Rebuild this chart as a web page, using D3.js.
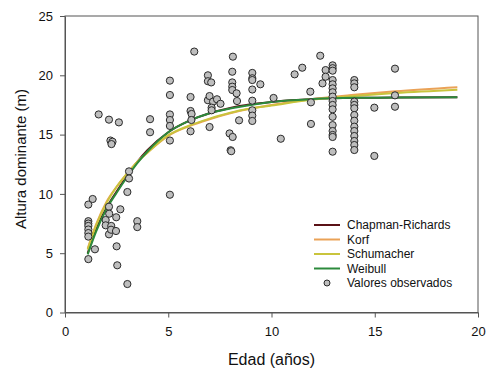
<!DOCTYPE html>
<html>
<head>
<meta charset="utf-8">
<script src="https://cdn.jsdelivr.net/npm/d3@7"></script>
<style>
  body { margin: 0; background: #fff; }
  svg { display: block; font-family: "Liberation Sans", Arial, sans-serif; }
</style>
</head>
<body>
<div id="chart"></div>
<script>
// observed values (age, height)
var obsAge = [
  1.13, 1.13, 1.13, 1.13, 1.13, 1.13, 1.13, 1.13, 1.34, 1.45, 1.63,
  1.97, 1.97, 2.13, 2.13, 2.13, 2.14, 2.2, 2.3, 2.25, 2.24, 2.23,
  2.47, 2.48, 2.5, 2.53, 2.61, 2.68, 3.02, 3.02, 3.1, 3.1, 3.5, 3.5,
  4.12, 4.12,
  5.08, 5.08, 5.08, 5.08, 5.08, 5.08, 5.08,
  6.08, 6.08, 6.08, 6.13, 6.12, 6.26,
  6.92, 6.92, 6.92, 7.0, 7.0, 7.08, 7.17, 7.36, 7.53, 7.1, 7.1,
  7.97, 8.02, 8.05, 8.12, 8.13, 8.1, 8.1, 8.1, 8.1, 8.31, 8.33, 8.43,
  9.07, 9.07, 9.07, 9.07, 9.07, 9.07, 9.07, 9.07, 9.46,
  10.1, 10.45, 11.12, 11.49, 11.88, 11.91, 11.91,
  12.36, 12.47, 12.62, 12.62,
  12.96, 12.96, 12.96, 12.96, 12.96, 12.96, 12.96, 12.96, 12.96, 12.96,
  12.96, 12.96, 12.96, 12.96, 12.96, 12.96, 12.96,
  14.01, 14.01, 14.01, 14.01, 14.01, 14.01, 14.01, 14.01, 14.01, 14.01,
  14.01, 14.01, 14.01, 14.01,
  14.98, 14.98, 15.98, 15.98, 15.98
];
var obsHeight = [
  9.1, 7.7, 7.5, 7.3, 7.0, 6.7, 6.4, 4.5, 9.57, 5.33, 16.7,
  7.8, 7.35, 16.26, 8.92, 6.59, 8.33, 14.5, 14.4, 14.2, 7.3, 6.98,
  6.87, 8.03, 5.58, 3.98, 16.03, 8.7, 10.16, 2.4, 11.9, 11.3, 7.7, 7.2,
  16.3, 15.2,
  19.55, 18.34, 16.7, 16.23, 15.73, 14.5, 9.93,
  18.17, 16.99, 15.28, 16.74, 16.23, 22.0,
  20.0, 19.5, 17.9, 18.25, 15.64, 19.4, 17.78, 17.98, 17.6, 17.27, 17.05,
  15.1, 13.68, 13.6, 14.8, 21.57, 20.3, 19.4, 19.04, 18.76, 18.48, 17.83, 16.2,
  20.2, 19.75, 19.6, 18.8, 17.86, 17.05, 16.6, 16.15, 19.24,
  18.09, 14.65, 20.08, 20.64, 18.62, 17.72, 15.9,
  21.65, 19.32, 20.44, 19.88,
  20.84, 20.6, 20.39, 19.6, 19.24, 18.9, 18.57, 18.2, 17.83, 17.5,
  17.13, 16.5, 15.8, 15.3, 14.97, 14.8, 13.56,
  19.6, 19.32, 18.99, 17.78, 17.5, 17.22, 16.65, 16.17, 15.67, 15.3,
  14.88, 14.46, 14.12, 13.7,
  17.27, 13.2, 20.56, 18.31, 17.35
];

// fitted curves
var curveAge   = [1.1, 1.5, 2, 2.5, 3, 3.5, 4, 5, 6, 7, 8, 9, 10, 12, 14, 16, 19];
var chapman    = [5.0, 7.0, 8.8, 10.2, 11.5, 12.7, 13.7, 15.2, 16.15, 16.8, 17.25, 17.55, 17.75, 18.0, 18.1, 18.12, 18.14];
var korf       = [5.4, 7.4, 9.3, 10.6, 11.7, 12.7, 13.5, 14.9, 15.7, 16.3, 16.8, 17.2, 17.5, 18.0, 18.35, 18.65, 19.0];
var schumacher = [5.3, 7.3, 9.2, 10.6, 11.7, 12.7, 13.5, 14.95, 15.75, 16.35, 16.85, 17.2, 17.45, 17.95, 18.25, 18.5, 18.78];
var weibull    = [4.9, 6.8, 8.7, 10.1, 11.4, 12.6, 13.6, 15.2, 16.15, 16.8, 17.2, 17.5, 17.75, 18.0, 18.1, 18.12, 18.14];

var seriesNames = ["Chapman-Richards", "Korf", "Schumacher", "Weibull"];
var seriesColors = ["#5a1116", "#eaa257", "#c9c43c", "#2c8a3c"];
var xTicks = [0, 5, 10, 15, 20];
var yTicks = [0, 5, 10, 15, 20, 25];

function draw() {
    var w = 502, h = 373;
    var left = 65, right = 478, top = 16, bottom = 312.5;

    var x = d3.scaleLinear().domain([0, 20]).range([left, right]);
    var y = d3.scaleLinear().domain([0, 25]).range([bottom, top]);

    var svg = d3.select("#chart")
                .append("svg")
                .attr("width", w)
                .attr("height", h);

    // frame
    svg.append("rect")
        .attr("x", left).attr("y", top)
        .attr("width", right - left).attr("height", bottom - top)
        .attr("fill", "none").attr("stroke", "#555").attr("stroke-width", 1);

    var xAxis = svg.append("g")
        .attr("transform", "translate(0," + bottom + ")")
        .call(d3.axisBottom(x).tickValues(xTicks).tickSize(5).tickPadding(9).tickSizeOuter(0));
    var yAxis = svg.append("g")
        .attr("transform", "translate(" + left + ",0)")
        .call(d3.axisLeft(y).tickValues(yTicks).tickSize(5).tickPadding(7).tickSizeOuter(0));

    [xAxis, yAxis].forEach(function(a) {
        a.select(".domain").attr("stroke", "#555");
        a.selectAll(".tick line").attr("stroke", "#555");
        a.selectAll(".tick text")
            .attr("fill", "#111")
            .style("font-size", "13px")
            .style("font-family", "Liberation Sans, Arial, sans-serif");
    });

    // curves
    var curves = [chapman, korf, schumacher, weibull];
    var line = d3.line()
        .x(function(d) { return x(d[0]); })
        .y(function(d) { return y(d[1]); })
        .curve(d3.curveMonotoneX);

    curves.forEach(function(vals, i) {
        var pts = curveAge.map(function(a, j) { return [a, vals[j]]; });
        svg.append("path")
            .datum(pts)
            .attr("fill", "none")
            .attr("stroke", seriesColors[i])
            .attr("stroke-width", 2)
            .attr("d", line);
    });

    // observed points
    svg.selectAll("circle.obs")
        .data(obsAge.map(function(a, i) { return [a, obsHeight[i]]; }))
        .enter()
        .append("circle")
        .attr("class", "obs")
        .attr("cx", function(d) { return x(d[0]); })
        .attr("cy", function(d) { return y(d[1]); })
        .attr("r", 3.6)
        .attr("fill", "#bebebe")
        .attr("stroke", "#2a2a2a")
        .attr("stroke-width", 1);

    // axis titles
    svg.append("text")
        .attr("x", (left + right) / 2)
        .attr("y", 365)
        .attr("text-anchor", "middle")
        .style("font-size", "16px")
        .attr("fill", "#111")
        .text("Edad (años)");

    svg.append("text")
        .attr("transform", "translate(26," + 159 + ") rotate(-90)")
        .attr("text-anchor", "middle")
        .style("font-size", "15px")
        .attr("fill", "#111")
        .text("Altura dominante (m)");

    // legend
    var legend = svg.append("g").attr("transform", "translate(314,225)");
    seriesNames.forEach(function(name, i) {
        var g = legend.append("g").attr("transform", "translate(0," + (i * 14.5) + ")");
        g.append("line")
            .attr("x1", 0).attr("x2", 26)
            .attr("stroke", seriesColors[i]).attr("stroke-width", 2);
        g.append("text")
            .attr("x", 33).attr("y", 4.3)
            .style("font-size", "12px")
            .attr("fill", "#111")
            .text(name);
    });
    var g5 = legend.append("g").attr("transform", "translate(0," + (4 * 14.5) + ")");
    g5.append("circle")
        .attr("cx", 13).attr("r", 3)
        .attr("fill", "#bebebe").attr("stroke", "#2a2a2a");
    g5.append("text")
        .attr("x", 33).attr("y", 4.3)
        .style("font-size", "12px")
        .attr("fill", "#111")
        .text("Valores observados");
}

window.onload = draw;
</script>
</body>
</html>
